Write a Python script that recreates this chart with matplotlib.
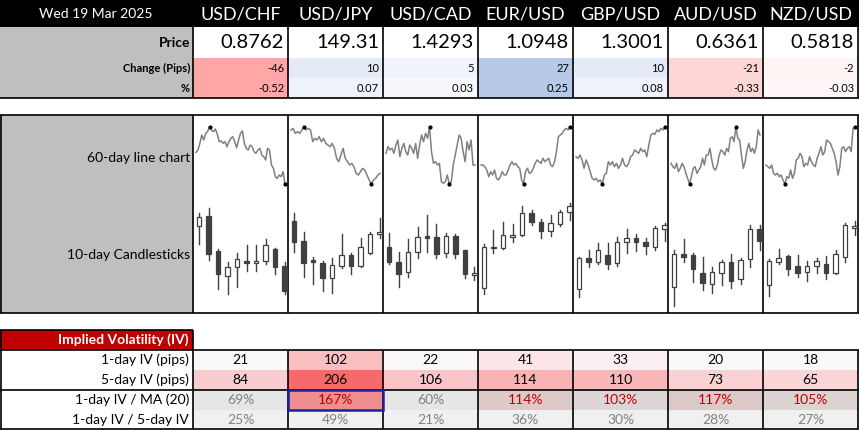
import matplotlib
matplotlib.use("Agg")
import matplotlib.pyplot as plt
import numpy as np

plt.rcParams["font.family"] = "Lato"

DATE = "Wed 19 Mar 2025"
PAIRS = ["USD/CHF", "USD/JPY", "USD/CAD", "EUR/USD", "GBP/USD", "AUD/USD", "NZD/USD"]
PRICES = ["0.8762", "149.31", "1.4293", "1.0948", "1.3001", "0.6361", "0.5818"]
CHANGE_PIPS = [-46, 10, 5, 27, 10, -21, -2]
CHANGE_PCT = ["-0.52", "0.07", "0.03", "0.25", "0.08", "-0.33", "-0.03"]
CHANGE_COLORS = ["#FFA6A6", "#E4EBF6", "#F0F4FA", "#B6C9E8", "#E4EBF6", "#FFD6D6", "#FFF5F5"]
PCT_COLORS = ["#FFA6A6", "#EEF2FA", "#F6F8FC", "#B6C9E8", "#EEF2FA", "#FFD6D6", "#FFF7F7"]

# 60-day lines (chart units, smaller = higher price)
LINES = [
    [112, 105, 85, 60, 75, 55, 50, 35, 45, 50, 42, 58, 80, 78, 85, 80, 95, 80, 70, 65, 80, 98, 75, 55,
     48, 85, 100, 105, 90, 95, 110, 115, 105, 100, 120, 125, 135, 100, 105, 150, 160, 185, 190, 180, 185, 170, 207],
    [45, 40, 55, 50, 55, 45, 35, 45, 40, 45, 80, 70, 75, 65, 80, 70, 85, 90, 95, 85, 100, 130, 140, 120,
     100, 130, 140, 150, 145, 155, 175, 180, 170, 160, 165, 180, 195, 207, 195, 190, 180, 175],
    [115, 95, 105, 100, 115, 90, 75, 125, 100, 85, 110, 120, 90, 100, 115, 85, 130, 90, 60, 80, 55, 70, 35,
     110, 145, 140, 150, 145, 200, 205, 200, 180, 207, 200, 150, 120, 90, 60, 70, 110, 140, 80, 105, 75, 150, 150],
    [150, 150, 155, 165, 185, 170, 180, 165, 190, 195, 185, 170, 180, 180, 165, 150, 140, 150, 145, 155,
     160, 195, 207, 170, 160, 175, 172, 160, 145, 135, 140, 145, 130, 140, 135, 130, 150, 155, 140, 110,
     65, 60, 55, 45, 40, 45, 35],
    [125, 130, 120, 135, 160, 135, 150, 170, 190, 195, 190, 200, 195, 207, 180, 175, 140, 150, 140, 155,
     145, 160, 150, 130, 150, 155, 145, 125, 120, 105, 110, 115, 100, 110, 105, 125, 90, 60, 55, 58, 45,
     50, 40, 45, 35],
    [145, 155, 160, 145, 170, 160, 145, 155, 175, 190, 207, 185, 160, 155, 175, 165, 155, 130, 150, 120,
     120, 100, 135, 160, 165, 150, 120, 105, 110, 120, 100, 110, 70, 65, 80, 35, 70, 75, 120, 160, 140,
     105, 85, 110, 100, 115, 95, 45, 60],
    [150, 155, 160, 150, 175, 180, 175, 185, 180, 195, 207, 185, 190, 165, 190, 175, 135, 130, 115, 125,
     155, 145, 150, 125, 140, 150, 155, 130, 115, 95, 120, 110, 75, 80, 85, 100, 115, 140, 180, 155, 100,
     95, 110, 100, 95, 110, 40, 35],
]

# 10-day candles: (open, high, low, close) in chart units (smaller = higher price)
CANDLES = [
    [(332, 295, 388, 307), (303, 278, 435, 418), (408, 403, 522, 478), (484, 440, 537, 457), (457, 415, 517, 433),
     (438, 390, 468, 441), (441, 390, 468, 438), (437, 373, 448, 390), (403, 400, 478, 457), (453, 440, 538, 527)],
    [(318, 295, 410, 380), (378, 350, 485, 443), (435, 425, 508, 440), (443, 438, 528, 488), (488, 430, 535, 450),
     (452, 358, 458, 420), (420, 413, 478, 452), (452, 370, 455, 396), (415, 352, 418, 357), (358, 310, 368, 352)],
    [(397, 355, 448, 442), (440, 412, 517, 476), (472, 373, 487, 411), (412, 337, 430, 367), (363, 300, 412, 370),
     (367, 328, 430, 418), (415, 353, 427, 363), (363, 358, 430, 418), (405, 405, 490, 478), (481, 457, 495, 475)],
    [(520, 388, 537, 395), (400, 345, 413, 395), (400, 320, 403, 360), (365, 328, 380, 360), (360, 272, 363, 295),
     (295, 285, 330, 320), (320, 313, 370, 347), (347, 300, 363, 325), (327, 285, 333, 292), (292, 265, 315, 272)],
    [(522, 425, 547, 430), (430, 405, 457, 442), (442, 385, 448, 405), (420, 383, 463, 448), (445, 365, 453, 382),
     (382, 343, 413, 370), (370, 357, 408, 382), (382, 370, 417, 393), (397, 333, 405, 340), (343, 325, 378, 330)],
    [(517, 405, 573, 418), (418, 373, 440, 425), (420, 413, 500, 463), (475, 425, 525, 505), (507, 455, 533, 472),
     (475, 436, 510, 440), (440, 418, 520, 497), (493, 430, 507, 436), (433, 330, 455, 343), (342, 330, 405, 377)],
    [(510, 433, 542, 438), (440, 403, 448, 430), (424, 420, 480, 463), (453, 420, 487, 475), (472, 437, 497, 453),
     (453, 430, 473, 438), (448, 423, 492, 475), (475, 405, 478, 418), (425, 323, 440, 330), (337, 317, 360, 333)],
]

IV_1D = [21, 102, 22, 41, 33, 20, 18]
IV_5D = [84, 206, 106, 114, 110, 73, 65]
IV_MA = [69, 167, 60, 114, 103, 117, 105]
IV_RATIO = [25, 49, 21, 36, 30, 28, 27]
IV_1D_COLORS = ["#FBF8FA", "#F9BEC0", "#FBF8FA", "#FCE6E8", "#FAF0F2", "#FBF8FA", "#FBF8FA"]
IV_5D_COLORS = ["#F9CDD0", "#F8696B", "#F9C5C8", "#F9B3B5", "#F9B7B9", "#FAD2D4", "#FAD5D7"]
IV_MA_COLORS = ["#E6E6E6", "#EE8E8E", "#E6E6E6", "#DDC9CA", "#DCD6D6", "#DDC9CA", "#DCD3D3"]

W, H = 859, 430
COL0, COLW = 193, 95

fig = plt.figure(figsize=(W / 100, H / 100), dpi=100)
ax = fig.add_axes([0, 0, 1, 1])
ax.set_xlim(0, W)
ax.set_ylim(H, 0)
ax.axis("off")


def rect(x0, y0, x1, y1, fc, ec="none", lw=0):
    ax.add_patch(plt.Rectangle((x0, y0), x1 - x0, y1 - y0, fc=fc, ec=ec, lw=lw))


def hline(y, x0, x1, lw=1.2):
    ax.plot([x0, x1], [y, y], color="black", lw=lw, solid_capstyle="butt")


def vline(x, y0, y1, lw=1.2):
    ax.plot([x, x], [y0, y1], color="black", lw=lw, solid_capstyle="butt")


def cx(i):
    return COL0 + COLW * i + COLW / 2


# header
rect(0, 0, W, 27, "black")
ax.text(96, 14, DATE, color="white", fontsize=10, ha="center", va="center")
for i, p in enumerate(PAIRS):
    ax.text(cx(i), 15, p, color="white", fontsize=13, ha="center", va="center")

# price block
rect(0, 27, COL0, 98, "#BFBFBF")
for i in range(7):
    x0 = COL0 + COLW * i
    rect(x0, 58, x0 + COLW, 78, CHANGE_COLORS[i])
    rect(x0, 78, x0 + COLW, 98, PCT_COLORS[i])
    ax.text(x0 + COLW - 4, 43, PRICES[i], fontsize=14.5, ha="right", va="center")
    ax.text(x0 + COLW - 4, 68, str(CHANGE_PIPS[i]), fontsize=8, ha="right", va="center")
    ax.text(x0 + COLW - 4, 88, CHANGE_PCT[i], fontsize=8, ha="right", va="center")
ax.text(COL0 - 3, 43, "Price", fontsize=10, fontweight="bold", ha="right", va="center")
ax.text(COL0 - 3, 68, "Change (Pips)", fontsize=8, fontweight="bold", ha="right", va="center")
ax.text(COL0 - 3, 88, "%", fontsize=8, fontweight="bold", ha="right", va="center")
hline(98, 0, W)
vline(W - 1, 27, 98)
for i in range(7):
    vline(COL0 + COLW * i, 27, 98)

# chart block
rect(0, 115, COL0, 313, "#BFBFBF")
ax.text(COL0 - 3, 158, "60-day line chart", fontsize=10, ha="right", va="center")
ax.text(COL0 - 3, 255, "10-day Candlesticks", fontsize=10, ha="right", va="center")
hline(115, 0, W)
hline(313, 0, W)
vline(0.6, 115, 313)
vline(W - 1, 115, 313)
for i in range(7):
    vline(COL0 + COLW * i, 115, 313)

for i in range(7):
    x0 = COL0 + COLW * i
    cax = fig.add_axes([x0 / W, 1 - 315 / H, COLW / W, 200 / H])
    cax.set_xlim(0, COLW)
    cax.set_ylim(600, 0)
    cax.axis("off")
    cax.patch.set_alpha(0)
    ys = np.array(LINES[i])
    xs = np.linspace(3, 92, len(ys))
    cax.plot(xs, ys, color="#808080", lw=1.1)
    cax.plot(xs[ys.argmin()], ys.min(), "o", color="black", ms=2)
    cax.plot(xs[ys.argmax()], ys.max(), "o", color="black", ms=2)
    for j, (o, hi, lo, c) in enumerate(CANDLES[i]):
        x = 6 + j * 9.5
        cax.plot([x, x], [hi, lo], color="#404040", lw=1.0, zorder=1)
        up = c < o
        top, bot = min(o, c), max(o, c)
        if bot - top < 5:
            bot = top + 5
        cax.add_patch(plt.Rectangle((x - 2.2, top), 4.4, bot - top,
                                    fc="white" if up else "#404040", ec="#404040", lw=0.9, zorder=2))

# IV block
rect(0, 330, COL0, 350, "#C00000")
ax.text(COL0 - 4, 340, "Implied Volatility (IV)", color="white", fontsize=10, fontweight="bold",
        ha="right", va="center")
for i in range(7):
    x0 = COL0 + COLW * i
    rect(x0, 350, x0 + COLW, 370, IV_1D_COLORS[i])
    rect(x0, 370, x0 + COLW, 390, IV_5D_COLORS[i])
    rect(x0, 390, x0 + COLW, 410, IV_MA_COLORS[i])
    rect(x0, 410, x0 + COLW, 429, "#F0F0F0")
    ax.text(cx(i), 360, str(IV_1D[i]), fontsize=10, ha="center", va="center")
    ax.text(cx(i), 380, str(IV_5D[i]), fontsize=10, ha="center", va="center")
    ax.text(cx(i), 400, f"{IV_MA[i]}%", fontsize=10, ha="center", va="center",
            color="#C00000" if IV_MA[i] > 100 else "#808080")
    ax.text(cx(i), 420, f"{IV_RATIO[i]}%", fontsize=10, ha="center", va="center", color="#808080")
labels = ["1-day IV (pips)", "5-day IV (pips)", "1-day IV / MA (20)", "1-day IV / 5-day IV"]
for k, lab in enumerate(labels):
    ax.text(COL0 - 4, 360 + 20 * k, lab, fontsize=10, ha="right", va="center")
hline(330, 0, COL0)
vline(0.6, 330, 429)
hline(350, 0, W)
hline(390, 0, W)
hline(429, 0, W)
vline(W - 1, 350, 429)
for i in range(7):
    vline(COL0 + COLW * i, 330 if i == 0 else 350, 429)
# highlighted cell
x1 = COL0 + COLW
ax.add_patch(plt.Rectangle((x1, 390), COLW, 20, fc="none", ec="#1F1FA0", lw=1.8, zorder=5))

fig.savefig("out.png", dpi=100)
